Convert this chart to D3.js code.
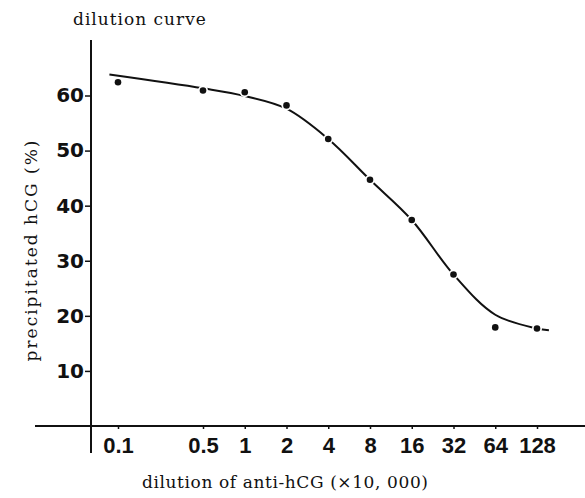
<!DOCTYPE html>
<html>
<head>
<meta charset="utf-8">
<script src="https://cdn.jsdelivr.net/npm/d3@7"></script>
<style>
  body { margin: 0; background: #fff; }
  .serif { font-family: "DejaVu Serif", serif; fill: #111; }
</style>
</head>
<body>
<div id="chart"></div>
<script>
// measured points
var dilutions = [0.1, 0.5, 1, 2, 4, 8, 16, 32, 64, 128];
var tickLabels = ["0.1", "0.5", "1", "2", "4", "8", "16", "32", "64", "128"];
var precipitated = [62.4, 60.9, 60.6, 58.2, 52.1, 44.7, 37.4, 27.5, 17.9, 17.7];

// hand drawn fit line
var curveDilutions = [0.085, 0.5, 1, 2, 4, 8, 16, 32, 64, 128, 156];
var curveValues = [63.8, 61.3, 59.9, 57.6, 52.1, 44.7, 37.4, 27.5, 20.2, 17.7, 17.4];

var yTicks = [10, 20, 30, 40, 50, 60];

var width = 585,
    height = 498;

var svg = d3.select("#chart")
  .append("svg")
    .attr("width", width)
    .attr("height", height);

// the printed axis is log-like but squeezed between 0.1 and 0.5
var x = d3.scaleLog()
  .domain([0.1, 0.5, 128])
  .range([118, 203, 537]);

var y = d3.scaleLinear()
  .domain([0, 60])
  .range([426, 95.5]);

// axis lines
svg.append("line")
  .attr("x1", 35).attr("x2", 585)
  .attr("y1", y(0)).attr("y2", y(0))
  .attr("stroke", "#111").attr("stroke-width", 2);

svg.append("line")
  .attr("x1", 91).attr("x2", 91)
  .attr("y1", 40).attr("y2", 453)
  .attr("stroke", "#111").attr("stroke-width", 2);

var yAxis = d3.axisLeft(y)
  .tickValues(yTicks)
  .tickSize(6)
  .tickPadding(1)
  .tickFormat(d3.format("d"));

svg.append("g")
  .attr("transform", "translate(91,0)")
  .call(yAxis)
  .call(function(g) { g.select(".domain").remove(); })
  .call(function(g) {
    g.selectAll(".tick line").attr("stroke", "#111").attr("stroke-width", 1.5);
    g.selectAll(".tick text")
      .attr("fill", "#111")
      .attr("font-family", "DejaVu Sans")
      .attr("font-weight", "bold")
      .attr("font-size", "20px");
  });

var xAxis = d3.axisBottom(x)
  .tickValues(dilutions)
  .tickSize(3)
  .tickPadding(8)
  .tickFormat(function(d, i) { return tickLabels[i]; });

svg.append("g")
  .attr("transform", "translate(0," + y(0) + ")")
  .call(xAxis)
  .call(function(g) { g.select(".domain").remove(); })
  .call(function(g) {
    g.selectAll(".tick line").attr("stroke", "#111").attr("stroke-width", 1.5);
    g.selectAll(".tick text")
      .attr("fill", "#111")
      .attr("font-family", "Liberation Sans")
      .attr("font-weight", "bold")
      .attr("font-size", "22px");
  });

// fitted line
var line = d3.line()
  .x(function(d, i) { return x(curveDilutions[i]); })
  .y(function(d) { return y(d); })
  .curve(d3.curveCatmullRom.alpha(0.5));

svg.append("path")
  .datum(curveValues)
  .attr("d", line)
  .attr("fill", "none")
  .attr("stroke", "#111")
  .attr("stroke-width", 2);

// dots, white ring gives the little gaps in the line
var dots = svg.selectAll("g.dot")
  .data(precipitated)
  .enter()
    .append("g")
    .attr("class", "dot")
    .attr("transform", function(d, i) {
      return "translate(" + x(dilutions[i]) + "," + y(d) + ")";
    });

dots.append("circle")
  .attr("r", 5)
  .attr("fill", "#fff");

dots.append("circle")
  .attr("r", 3.3)
  .attr("fill", "#111");

// texts
svg.append("text")
  .attr("class", "serif")
  .attr("x", 73)
  .attr("y", 25)
  .attr("font-size", "17px")
  .attr("letter-spacing", "1px")
  .text("dilution  curve");

svg.append("text")
  .attr("class", "serif")
  .attr("x", 142)
  .attr("y", 488)
  .attr("font-size", "17px")
  .attr("letter-spacing", "0.6px")
  .text("dilution of anti-hCG  (\u00d710, 000)");

svg.append("text")
  .attr("class", "serif")
  .attr("transform", "translate(37,250) rotate(-90)")
  .attr("text-anchor", "middle")
  .attr("font-size", "17px")
  .attr("letter-spacing", "2px")
  .text("precipitated hCG (%)");
</script>
</body>
</html>
